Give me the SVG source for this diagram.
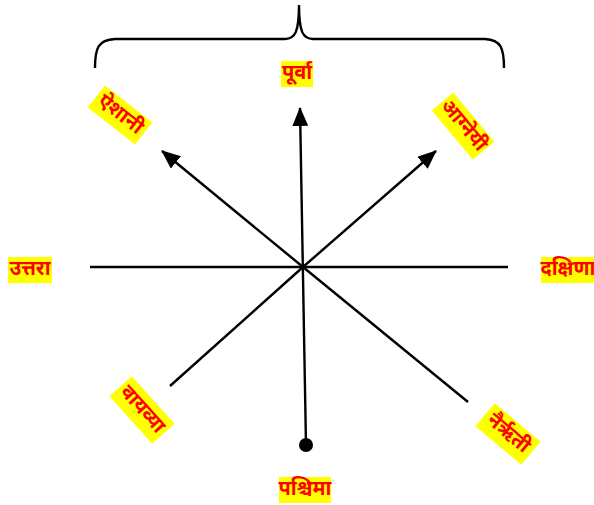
<svg xmlns="http://www.w3.org/2000/svg" width="594" height="505" viewBox="0 0 594 505">
<style>
.bg{fill:#ffff00}
.t{font-family:"Noto Sans Devanagari","Noto Sans","Lohit Devanagari","FreeSans",sans-serif;font-size:20px;font-weight:bold;fill:#ff0000;text-anchor:middle;dominant-baseline:central}
.ln{stroke:#000;stroke-width:2.4;fill:none}
</style>
<defs>
<marker id="ah" viewBox="0 0 19 16" refX="18" refY="8" markerWidth="19" markerHeight="16" orient="auto" markerUnits="userSpaceOnUse">
<path d="M0,0 L19,8 L0,16 z" fill="#000"/>
</marker>
</defs>
<rect width="594" height="505" fill="#fff"/>
<g id="brace">
<path class="ln" d="M95,68 C95,48 98,40 115,39 L285,39 C295,39 299,32 299,5 C299,32 303,39 313,39 L485,39 C501,40 504,48 504,68" stroke-width="1.8"/>
</g>
<g id="connectors">
<line class="ln" x1="90" y1="267" x2="508" y2="267"/>
<line class="ln" x1="306" y1="445" x2="300" y2="108" marker-end="url(#ah)"/>
<line class="ln" x1="303" y1="267" x2="162" y2="151" marker-end="url(#ah)"/>
<line class="ln" x1="303" y1="267" x2="436" y2="151" marker-end="url(#ah)"/>
<line class="ln" x1="303" y1="267" x2="170" y2="386"/>
<line class="ln" x1="303" y1="267" x2="468" y2="402"/>
<circle cx="306" cy="445" r="7" fill="#000"/>
</g>
<g id="purva" transform="translate(297,74)">
<rect class="bg" x="-16" y="-13" width="32" height="26"/>
<text class="t" x="0" y="0">पूर्वा</text>
</g>
<g id="aishani" transform="translate(120,115) rotate(38)">
<rect class="bg" x="-30" y="-14" width="60" height="28"/>
<text class="t" x="0" y="0">ऐशानी</text>
</g>
<g id="agneyi" transform="translate(463,126) rotate(50)">
<rect class="bg" x="-32" y="-14" width="64" height="28"/>
<text class="t" x="0" y="0">आग्नेयी</text>
</g>
<g id="uttara" transform="translate(30,270)">
<rect class="bg" x="-22" y="-13" width="44" height="26"/>
<text class="t" x="0" y="0">उत्तरा</text>
</g>
<g id="dakshina" transform="translate(568,270)">
<rect class="bg" x="-27" y="-13" width="54" height="26"/>
<text class="t" x="0" y="0">दक्षिणा</text>
</g>
<g id="vayavya" transform="translate(142,410) rotate(48)">
<rect class="bg" x="-32" y="-15" width="64" height="30"/>
<text class="t" x="0" y="0">वायव्या</text>
</g>
<g id="nairriti" transform="translate(508,434) rotate(40)">
<rect class="bg" x="-30" y="-15" width="60" height="30"/>
<text class="t" x="0" y="0">नैर्ऋती</text>
</g>
<g id="pashchima" transform="translate(305,490)">
<rect class="bg" x="-26" y="-13" width="52" height="26"/>
<text class="t" x="0" y="0">पश्चिमा</text>
</g>
</svg>
